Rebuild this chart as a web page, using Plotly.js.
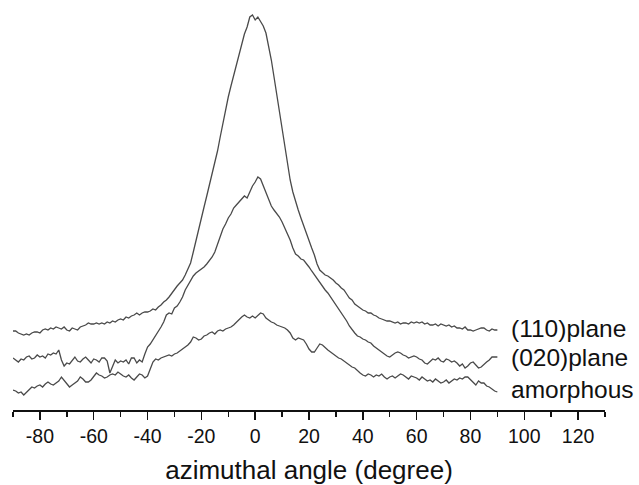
<!DOCTYPE html>
<html>
<head>
<meta charset="utf-8">
<script src="https://cdn.plot.ly/plotly-3.0.1.min.js"></script>
<style>html,body{margin:0;padding:0;background:#fff;}#chart{width:639px;height:485px;}</style>
</head>
<body>
<div id="chart"></div>
<script>
// azimuthal angle (degree), -90 .. 90 in 1 degree steps
var angles = [];
for (var a = -90; a <= 90; a++) angles.push(a);

// intensity (arbitrary units, offset curves)
var plane110 = [79,79,77,76,75,76,75,77,78,78,77,80,81,80,82,81,83,82,81,83,80,79,82,81,80,83,84,85,87,86,
86,87,86,87,86,88,87,89,88,90,91,90,93,92,94,95,97,95,97,98,98,99,101,100,103,105,108,110,113,117,
120,124,127,130,135,142,147,158,170,181,192,203,214,225,236,247,259,273,287,300,313,324,335,346,357,366,376,383,393,395,
390,393,388,384,377,365,350,333,316,298,280,262,245,230,218,208,200,192,184,176,169,162,155,146,140,137,135,134,132,130,
127,125,122,120,116,112,110,106,104,102,100,99,97,97,95,94,92,91,90,89,89,88,87,88,86,87,87,86,88,87,
88,87,88,86,87,85,85,86,84,86,85,84,85,83,84,82,82,81,83,80,80,79,80,81,82,82,80,79,81,80,80];

var plane020 = [52,50,48,51,50,53,54,51,52,55,53,54,52,56,55,57,56,60,50,44,47,46,50,53,49,48,51,53,50,47,
51,50,48,52,52,49,37,44,50,47,49,48,50,46,52,52,47,50,48,56,63,66,70,74,78,83,88,95,97,96,
102,104,108,113,120,125,130,134,137,139,141,143,146,149,153,158,166,174,181,186,192,196,202,205,208,211,214,212,219,224,
228,233,231,224,218,210,204,200,197,193,188,182,177,170,162,156,154,151,150,147,143,139,135,131,127,124,120,117,113,110,
106,102,98,94,89,84,80,77,74,73,71,70,68,67,64,62,60,58,56,54,53,55,57,58,57,55,54,52,53,54,
53,51,50,47,46,49,51,50,52,49,48,51,50,48,49,47,44,46,42,44,47,48,45,42,43,46,48,50,53,53,53];

var amorphous = [20,19,17,18,15,18,21,23,22,24,25,23,26,28,26,25,27,29,33,30,26,23,25,27,29,33,31,28,28,30,
33,37,35,34,32,33,35,36,35,38,36,34,33,35,32,30,33,36,35,32,34,42,48,51,50,52,53,54,55,54,
56,57,59,61,63,65,68,73,72,70,71,74,75,77,78,76,79,80,79,81,82,83,85,88,90,93,95,93,92,94,
92,95,97,96,92,90,88,87,85,84,83,82,80,77,72,70,72,71,70,66,61,58,58,62,66,65,62,60,58,56,
54,52,51,49,47,45,43,42,39,37,35,34,36,35,33,35,34,36,33,31,33,34,32,34,36,35,33,31,34,33,
32,30,33,31,29,30,28,31,29,27,28,30,27,29,31,30,32,31,33,33,30,27,25,29,27,27,24,23,21,19,18];

var seriesNames = ['(110)plane', '(020)plane', 'amorphous'];
var seriesData = [plane110, plane020, amorphous];
var labelY = [82, 53, 21];

var xTickVals = [-80,-60,-40,-20,0,20,40,60,80,100,120];

var traces = seriesData.map(function (ys, i) {
  return {
    x: angles, y: ys, type: 'scatter', mode: 'lines', name: seriesNames[i],
    line: {color: '#4a4a4a', width: 1.3}, hoverinfo: 'skip'
  };
});

var annotations = seriesNames.map(function (n, i) {
  return {
    x: 94.5, y: labelY[i], xref: 'x', yref: 'y', text: n, showarrow: false,
    xanchor: 'left', yanchor: 'middle',
    font: {family: 'Liberation Sans, Arial, sans-serif', size: 24.5, color: '#111'}
  };
});

var layout = {
  width: 639, height: 485,
  margin: {l: 13, r: 34, t: 5, b: 75},
  paper_bgcolor: '#fff', plot_bgcolor: '#fff',
  showlegend: false,
  font: {family: 'Liberation Sans, Arial, sans-serif', color: '#111'},
  xaxis: {
    range: [-90, 130], tickvals: xTickVals, ticktext: xTickVals.map(String),
    ticks: 'outside', ticklen: 8, tickwidth: 1.5, tickcolor: '#111',
    showline: true, linecolor: '#111', linewidth: 1.5,
    showgrid: false, zeroline: false,
    tickfont: {size: 19.5, color: '#111'},
    ticklabelstandoff: 0,
    minor: {dtick: 10, tick0: 0, ticks: 'outside', ticklen: 5, tickwidth: 1.5, tickcolor: '#111', showgrid: false},
    title: {text: 'azimuthal angle (degree)', font: {size: 26, color: '#111'}, standoff: 22}
  },
  yaxis: {range: [0, 405], visible: false, showgrid: false, zeroline: false},
  annotations: annotations
};

Plotly.newPlot('chart', traces, layout, {staticPlot: true, displayModeBar: false});
</script>
</body>
</html>
